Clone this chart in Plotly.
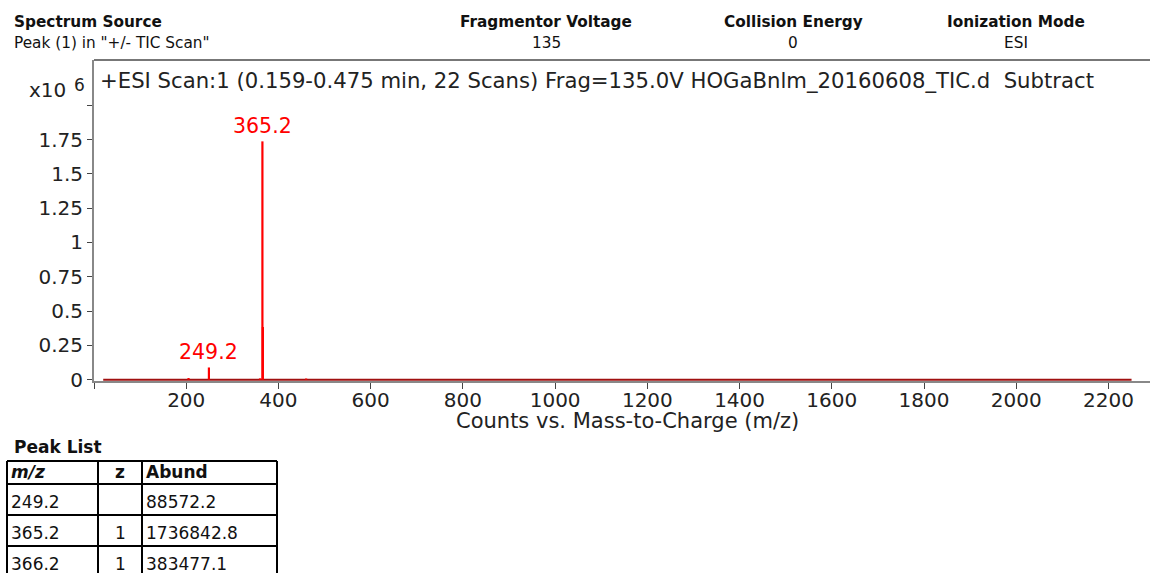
import plotly.graph_objects as go

# ---------------- data ----------------
peak_mz = [205.0, 249.2, 360.0, 365.2, 366.2, 460.0]
peak_abund = [12000.0, 88572.2, 9000.0, 1736842.8, 383477.1, 8000.0]
label_mz = [249.2, 365.2]
label_abund = [88572.2, 1736842.8]
label_text = ["249.2", "365.2"]
baseline_mz = [20.0, 2250.0]
baseline_abund = [0.0, 0.0]

x_ticks = [0, 200, 400, 600, 800, 1000, 1200, 1400, 1600, 1800, 2000, 2200]
x_tick_text = ["", "200", "400", "600", "800", "1000", "1200", "1400", "1600", "1800", "2000", "2200"]
y_ticks = [0, 250000, 500000, 750000, 1000000, 1250000, 1500000, 1750000, 2000000]
y_tick_text = ["0", "0.25", "0.5", "0.75", "1", "1.25", "1.5", "1.75", ""]

header_titles = ["Fragmentor Voltage", "Collision Energy", "Ionization Mode"]
header_values = ["135", "0", "ESI"]

table_cols = ["m/z", "z", "Abund"]
table_mz = ["249.2", "365.2", "366.2"]
table_z = ["", "1", "1"]
table_abund = ["88572.2", "1736842.8", "383477.1"]

title_text = "+ESI Scan:1 (0.159-0.475 min, 22 Scans) Frag=135.0V HOGaBnlm_20160608_TIC.d  Subtract"

# ---------------- layout geometry ----------------
W, H = 1150, 573
ML, MR, MT, MB = 94, 0, 60, 192
PW = W - ML - MR
PH = H - MT - MB


def px(x):
    return (x - ML) / PW


def py(y):
    return (H - MB - y) / PH


fig = go.Figure()

# baseline
fig.add_trace(go.Scatter(x=baseline_mz, y=baseline_abund, mode="lines",
                         line=dict(color="#a01010", width=2), hoverinfo="skip",
                         showlegend=False))
# sticks
sx, sy = [], []
for m, a in zip(peak_mz, peak_abund):
    sx += [m, m, None]
    sy += [0, a, None]
fig.add_trace(go.Scatter(x=sx, y=sy, mode="lines",
                         line=dict(color="#ff0000", width=2.2), showlegend=False))

FONT = "DejaVu Sans, Verdana, sans-serif"
TFONT = "DejaVu Sans, Verdana, sans-serif"

ann = []
for m, a, t in zip(label_mz, label_abund, label_text):
    ann.append(dict(x=m, y=a, xref="x", yref="y", text=t, showarrow=False,
                    yanchor="bottom", yshift=1, xshift=0,
                    font=dict(family=FONT, size=20.5, color="#ff0000")))

# header
ann.append(dict(x=px(12), y=py(22), xref="paper", yref="paper", text="<b>Spectrum Source</b>",
                showarrow=False, xanchor="left", yanchor="middle",
                font=dict(family=TFONT, size=15.3, color="#111")))
ann.append(dict(x=px(12), y=py(43), xref="paper", yref="paper", text='Peak (1) in "+/- TIC Scan"',
                showarrow=False, xanchor="left", yanchor="middle",
                font=dict(family=TFONT, size=15.3, color="#111")))
for cx, t, v in zip([546, 793, 1016], header_titles, header_values):
    ann.append(dict(x=px(cx), y=py(22), xref="paper", yref="paper", text="<b>%s</b>" % t,
                    showarrow=False, xanchor="center", yanchor="middle",
                    font=dict(family=TFONT, size=15.3, color="#111")))
    ann.append(dict(x=px(cx), y=py(43), xref="paper", yref="paper", text=v,
                    showarrow=False, xanchor="center", yanchor="middle",
                    font=dict(family=TFONT, size=15.3, color="#111")))

# plot title inside frame
ann.append(dict(x=px(98), y=py(80), xref="paper", yref="paper", text=title_text,
                showarrow=False, xanchor="left", yanchor="middle",
                font=dict(family=FONT, size=21.2, color="#222")))
# multiplier
ann.append(dict(x=px(68), y=py(90), xref="paper", yref="paper", text="x10",
                showarrow=False, xanchor="right", yanchor="middle",
                font=dict(family=FONT, size=20, color="#222")))
ann.append(dict(x=px(72), y=py(85), xref="paper", yref="paper", text="6",
                showarrow=False, xanchor="left", yanchor="middle",
                font=dict(family=FONT, size=17, color="#222")))
# x title
ann.append(dict(x=px(627), y=py(421), xref="paper", yref="paper",
                text="Counts vs. Mass-to-Charge (m/z)",
                showarrow=False, xanchor="center", yanchor="middle",
                font=dict(family=FONT, size=21, color="#222")))

# peak list table
ann.append(dict(x=px(12), y=py(447), xref="paper", yref="paper", text="<b>Peak List</b>",
                showarrow=False, xanchor="left", yanchor="middle",
                font=dict(family=TFONT, size=17, color="#111")))

shapes = []
col_x = [7, 98, 142, 277]
row_y = [461, 484, 515, 546, 577]
for x in col_x:
    shapes.append(dict(type="line", xref="paper", yref="paper", x0=px(x), x1=px(x),
                       y0=py(row_y[0]), y1=py(row_y[-1]), line=dict(color="#000", width=2)))
for y in row_y:
    shapes.append(dict(type="line", xref="paper", yref="paper", x0=px(col_x[0]), x1=px(col_x[-1]),
                       y0=py(y), y1=py(y), line=dict(color="#000", width=2)))

TS = 17
# header row
ann.append(dict(x=px(9), y=py(472), xref="paper", yref="paper", text="<b><i>%s</i></b>" % table_cols[0],
                showarrow=False, xanchor="left", yanchor="middle",
                font=dict(family=TFONT, size=TS, color="#111")))
ann.append(dict(x=px(120), y=py(472), xref="paper", yref="paper", text="<b>%s</b>" % table_cols[1],
                showarrow=False, xanchor="center", yanchor="middle",
                font=dict(family=TFONT, size=TS, color="#111")))
ann.append(dict(x=px(144), y=py(472), xref="paper", yref="paper", text="<b>%s</b>" % table_cols[2],
                showarrow=False, xanchor="left", yanchor="middle",
                font=dict(family=TFONT, size=TS, color="#111")))
for i, (m, z, a) in enumerate(zip(table_mz, table_z, table_abund)):
    yc = (row_y[i + 1] + row_y[i + 2]) / 2 + 2
    ann.append(dict(x=px(9), y=py(yc), xref="paper", yref="paper", text=m,
                    showarrow=False, xanchor="left", yanchor="middle",
                    font=dict(family=TFONT, size=TS, color="#111")))
    if z:
        ann.append(dict(x=px(120), y=py(yc), xref="paper", yref="paper", text=z,
                        showarrow=False, xanchor="center", yanchor="middle",
                        font=dict(family=TFONT, size=TS, color="#111")))
    ann.append(dict(x=px(144), y=py(yc), xref="paper", yref="paper", text=a,
                    showarrow=False, xanchor="left", yanchor="middle",
                    font=dict(family=TFONT, size=TS, color="#111")))

# frame top line
shapes.append(dict(type="line", xref="paper", yref="paper", x0=0, x1=1, y0=1, y1=1,
                   line=dict(color="#777", width=2)))

fig.update_layout(
    width=W, height=H,
    margin=dict(l=ML, r=MR, t=MT, b=MB, pad=0),
    plot_bgcolor="white", paper_bgcolor="white",
    showlegend=False,
    annotations=ann, shapes=shapes,
    xaxis=dict(range=[0, 2290], tickvals=x_ticks, ticktext=x_tick_text,
               showgrid=False, zeroline=False, showline=True, linecolor="#888", linewidth=2,
               ticks="outside", ticklen=6, tickcolor="#444", tickwidth=1,
               ticklabelstandoff=-6,
               tickfont=dict(family=FONT, size=20, color="#222")),
    yaxis=dict(range=[-10000, 2330000], tickvals=y_ticks, ticktext=y_tick_text,
               showgrid=False, zeroline=False, showline=True, linecolor="#888", linewidth=2,
               ticks="outside", ticklen=5, tickcolor="#444", tickwidth=1,
               tickfont=dict(family=FONT, size=20, color="#222")),
)

fig.write_html("out.html", config={"displayModeBar": False},
               post_script="document.body.style.margin='0';document.body.style.overflow='hidden';")
